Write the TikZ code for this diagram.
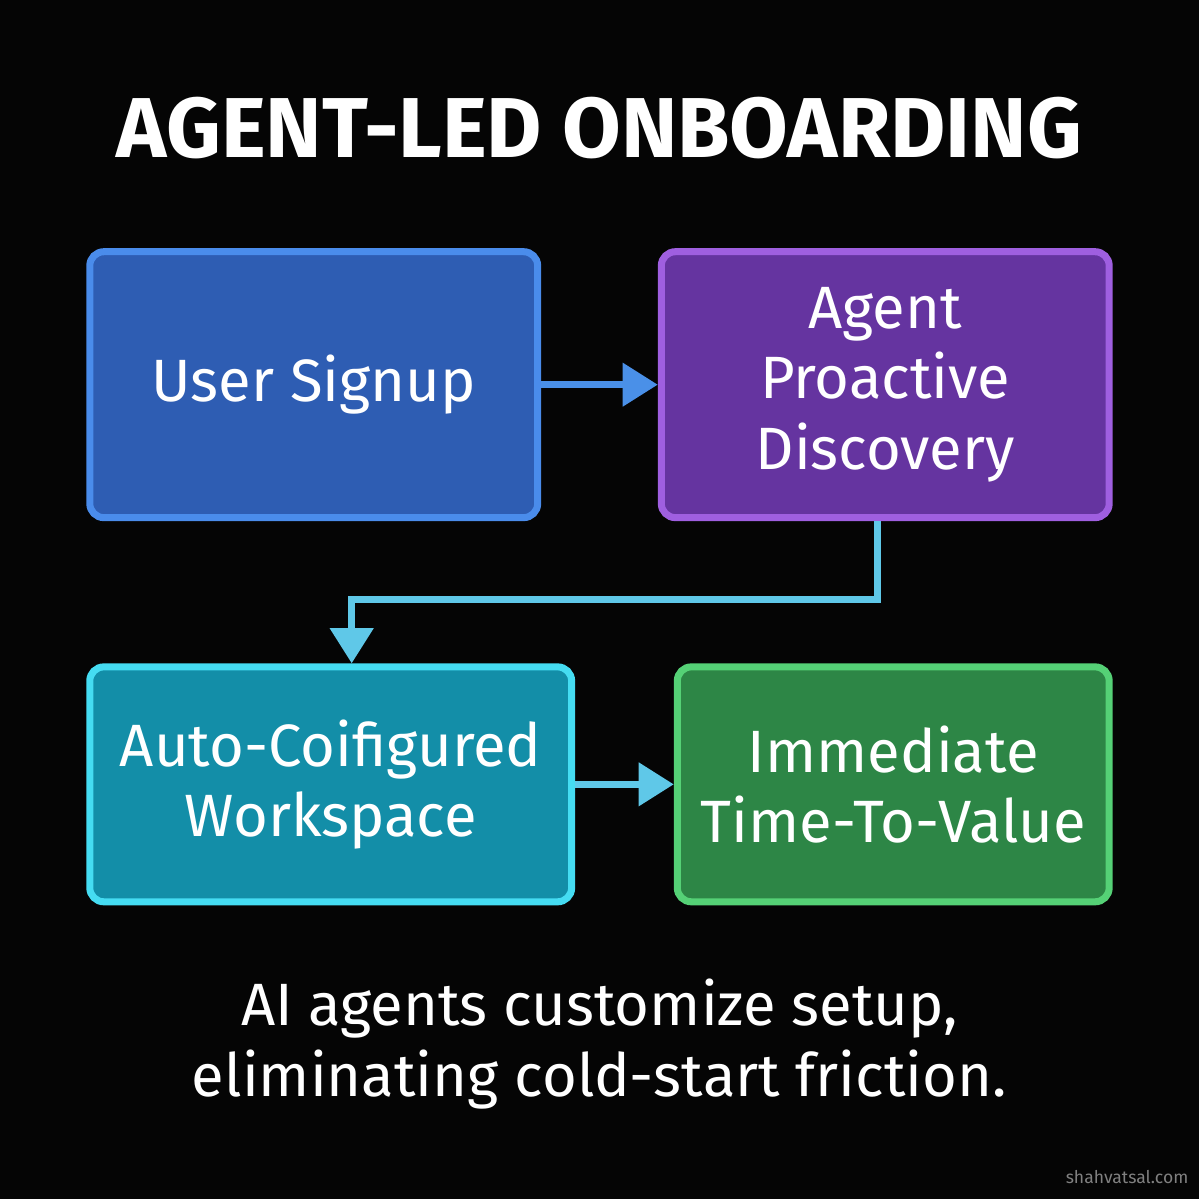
\documentclass[tikz,border=0pt]{standalone}
\usepackage{fontspec}
\setmainfont{Fira Sans}
\usetikzlibrary{positioning, arrows.meta}
\definecolor{bgblack}{HTML}{050505}
\definecolor{signupfill}{HTML}{2E5DB3}
\definecolor{signupline}{HTML}{4A8CEB}
\definecolor{agentfill}{HTML}{6534A0}
\definecolor{agentline}{HTML}{9F5FE0}
\definecolor{autofill}{HTML}{138EA8}
\definecolor{autoline}{HTML}{45DCF2}
\definecolor{valuefill}{HTML}{2D8646}
\definecolor{valueline}{HTML}{55D176}
\definecolor{arrowblue}{HTML}{4A90E8}
\definecolor{arrowcyan}{HTML}{5FC8E8}
\tikzset{
x=0.01cm, y=-0.01cm,
stage/.style={draw, line width=2pt, rounded corners=4pt, align=center, text=white,
  font=\fontsize{17}{20}\selectfont, inner sep=0pt}, % box for each stage
flow/.style={-{Triangle[length=10pt, width=12pt]}, line width=2pt}, % connectors
}
\begin{document}
\begin{tikzpicture}
  \fill[bgblack] (0,0) rectangle (1200,1200);
  \node[text=white, font=\bfseries\fontsize{24.2}{30}\selectfont] (title) at (600,128) {AGENT-LED ONBOARDING};
  \node[stage, fill=signupfill, draw=signupline, minimum width=4.48cm, minimum height=2.66cm] (signup) at (314,385) {User Signup};
  \node[stage, fill=agentfill, draw=agentline, minimum width=4.48cm, minimum height=2.66cm] (agent) at (886,385) {Agent\\Proactive\\Discovery};
  \node[stage, fill=autofill, draw=autoline, minimum width=4.82cm, minimum height=2.35cm] (auto) at (331,785) {Auto-Coifigured\\Workspace};
  \node[stage, fill=valuefill, draw=valueline, minimum width=4.32cm, minimum height=2.35cm] (value) at (894,785) {Immediate\\Time-To-Value};
  \coordinate (bend) at (352,600);
  \draw[flow, arrowblue] (signup) -- (agent);
  \draw[flow, arrowcyan] (agent.south -| 878,0) |- (bend) -- (auto.north -| bend);
  \draw[flow, arrowcyan] (auto) -- (value);
  \node[text=white, align=center, font=\fontsize{17}{20}\selectfont] (caption) at (600,1045) {AI agents customize setup,\\eliminating cold-start friction.};
  \node[text=gray, font=\fontsize{5}{6}\selectfont] (mark) at (1128,1178) {shahvatsal.com};
\end{tikzpicture}
\end{document}
